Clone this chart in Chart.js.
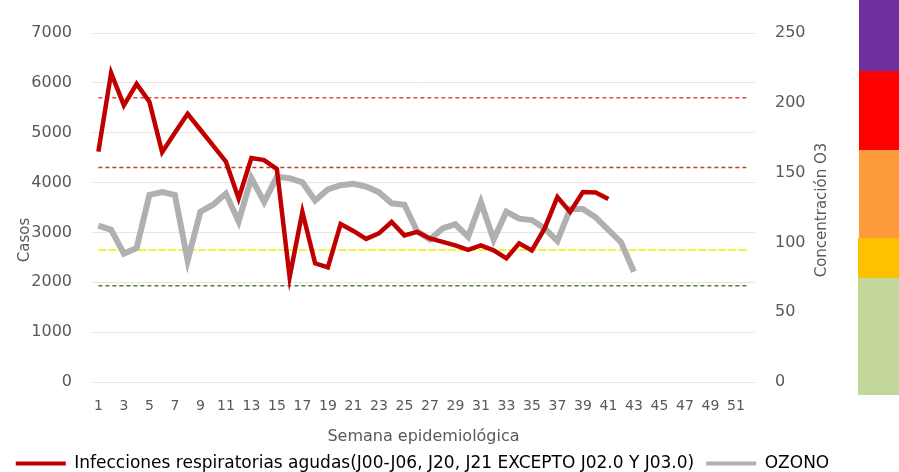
<!DOCTYPE html>
<html>
<head>
<meta charset="utf-8">
<script src="https://cdn.jsdelivr.net/npm/chart.js@4"></script>
<style>
  html, body { margin: 0; padding: 0; background: #ffffff; }
  #wrap { position: relative; width: 899px; height: 472px; overflow: hidden; }
  #grafico { position: absolute; left: 0; top: 0; }
  .nivel { position: absolute; right: 0; }
</style>
</head>
<body>
<div id="wrap">
  <canvas id="grafico" width="899" height="472"></canvas>
  <!-- barra de colores de calidad del aire -->
  <div class="nivel" style="left:859px; top:0; height:71px; background:#7030a0"></div>
  <div class="nivel" style="left:859px; top:71px; height:79px; background:#ff0000"></div>
  <div class="nivel" style="left:859px; top:150px; height:88px; background:#fd9a3a"></div>
  <div class="nivel" style="left:858px; top:238px; height:40px; background:#ffc000"></div>
  <div class="nivel" style="left:858px; top:278px; height:117px; background:#c4d79b"></div>
</div>
<script>
// Semanas epidemiológicas
const semanas = ['1','2','3','4','5','6','7','8','9','10','11','12','13','14','15','16','17','18','19','20',
  '21','22','23','24','25','26','27','28','29','30','31','32','33','34','35','36','37','38','39','40',
  '41','42','43','44','45','46','47','48','49','50','51','52'];

// Casos de IRA por semana (eje izquierdo)
const casosIRA = [4620, 6200, 5550, 5980, 5620, 4610, 5000, 5380, 5060, 4740,
  4420, 3680, 4490, 4450, 4270, 2100, 3410, 2380, 2300, 3170,
  3030, 2870, 2980, 3210, 2940, 3010, 2880, 2810, 2740, 2650,
  2740, 2640, 2480, 2780, 2640, 3080, 3710, 3410, 3810, 3800, 3670];

// Concentración de ozono (eje derecho)
const ozono = [112, 109, 92, 96, 134, 136, 134, 87, 122, 127,
  135, 115, 146, 129, 147, 146, 143, 130, 138, 141,
  142, 140, 136, 128, 127, 108, 102, 110, 113, 104,
  129, 102, 122, 117, 116, 110, 101, 124, 124, 118,
  109, 100, 79];

// Umbrales del canal endémico (casos)
const umbrales = [5700, 4300, 2650, 1930];
const coloresUmbral = ['#e04848', '#b5432f', '#eeee00', '#4f7a3a'];

const ticksCasos = [0, 1000, 2000, 3000, 4000, 5000, 6000, 7000];
const ticksOzono = [0, 50, 100, 150, 200, 250];

const etiquetaIRA = 'Infecciones respiratorias agudas(J00-J06, J20, J21 EXCEPTO J02.0 Y J03.0)';
const etiquetaOzono = 'OZONO';

const fuente = "'DejaVu Sans', sans-serif";
const gris = '#595959';

const lineasUmbral = umbrales.map((u, i) => ({
  label: 'umbral' + i,
  data: [{ x: semanas[0], y: u }, { x: semanas[semanas.length - 1], y: u }],
  borderColor: coloresUmbral[i],
  borderWidth: 1.5,
  borderDash: i === 2 ? [8, 2] : [4, 3],
  pointRadius: 0,
  yAxisID: 'y',
  order: 5
}));

// títulos de ejes girados (se dibujan a mano para ubicarlos como en el original)
const titulosEjes = {
  id: 'titulosEjes',
  afterDraw(chart) {
    const c = chart.ctx;
    const rotulo = (txt, x, y) => {
      c.save();
      c.fillStyle = gris;
      c.font = "15px " + fuente;
      c.textAlign = 'center';
      c.textBaseline = 'middle';
      c.translate(x, y);
      c.rotate(-Math.PI / 2);
      c.fillText(txt, 0, 0);
      c.restore();
    };
    rotulo('Casos', 25, 240);
    rotulo('Concentración O3', 822, 210);
  }
};

const ctx = document.getElementById('grafico').getContext('2d');
const grafico = new Chart(ctx, {
  type: 'line',
  data: {
    labels: semanas,
    datasets: [
      {
        label: etiquetaIRA,
        data: casosIRA,
        borderColor: '#c00000',
        backgroundColor: '#c00000',
        borderWidth: 4.5,
        pointRadius: 0,
        tension: 0,
        yAxisID: 'y',
        order: 0
      },
      {
        label: etiquetaOzono,
        data: ozono,
        borderColor: '#b0b0b0',
        backgroundColor: '#b0b0b0',
        borderWidth: 6,
        pointRadius: 0,
        tension: 0,
        yAxisID: 'y1',
        order: 1
      },
      ...lineasUmbral
    ]
  },
  options: {
    responsive: false,
    animation: false,
    layout: { padding: { top: 33, left: 0, right: 54, bottom: -10 } },
    plugins: {
      tooltip: { enabled: false },
      legend: {
        position: 'bottom',
        labels: {
          color: gris,
          font: { family: fuente, size: 17 },
          boxWidth: 50,
          boxHeight: 4,
          padding: 12,
          generateLabels: () => [
            { text: etiquetaIRA, fillStyle: '#c00000', strokeStyle: '#c00000', lineWidth: 0, datasetIndex: 0 },
            { text: etiquetaOzono, fillStyle: '#b0b0b0', strokeStyle: '#b0b0b0', lineWidth: 0, datasetIndex: 1 }
          ]
        }
      }
    },
    scales: {
      x: {
        offset: true,
        grid: { display: false, drawTicks: false },
        border: { display: false },
        ticks: {
          color: gris,
          font: { family: fuente, size: 14 },
          autoSkip: false,
          maxRotation: 0,
          padding: 16,
          callback: (v, i) => (i % 2 === 0 ? semanas[i] : '')
        },
        title: {
          display: true,
          text: 'Semana epidemiológica',
          color: gris,
          font: { family: fuente, size: 16 },
          padding: { top: -4, bottom: -3 }
        }
      },
      y: {
        position: 'left',
        min: 0,
        max: 7000,
        afterBuildTicks: s => { s.ticks = ticksCasos.map(v => ({ value: v })); },
        afterFit: s => { s.width = 92; },
        grid: { color: '#e6e6e6', drawTicks: false },
        border: { display: false },
        ticks: { color: gris, font: { family: fuente, size: 16 }, padding: 20, callback: v => String(v) }
      },
      y1: {
        position: 'right',
        min: 0,
        max: 250,
        afterBuildTicks: s => { s.ticks = ticksOzono.map(v => ({ value: v })); },
        afterFit: s => { s.width = 90; },
        grid: { display: false, drawTicks: false },
        border: { display: false },
        ticks: { color: gris, font: { family: fuente, size: 16 }, padding: 20, callback: v => String(v) }
      }
    }
  },
  plugins: [titulosEjes]
});
</script>
</body>
</html>
